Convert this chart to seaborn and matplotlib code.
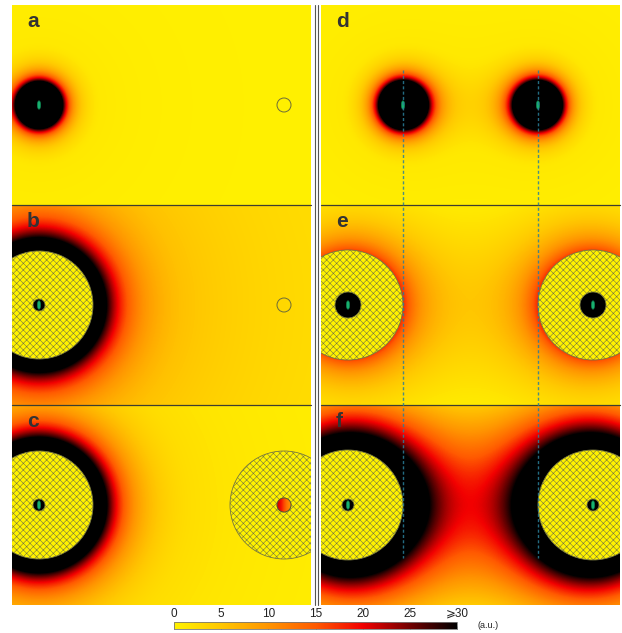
import numpy as np
import pandas as pd
import matplotlib
matplotlib.use("Agg")
import matplotlib.pyplot as plt
import seaborn as sns
from matplotlib.colors import LinearSegmentedColormap, Normalize
from matplotlib.patches import Circle, Wedge, Ellipse
from matplotlib.lines import Line2D

# ---------------- data ----------------
panel_labels = ["a", "b", "c", "d", "e", "f"]
# source positions inside each 299 x 200 panel and their signs
src_x = {"a": [27], "b": [27], "c": [27], "d": [82, 217], "e": [27, 272], "f": [27, 272]}
src_q = {"a": [1], "b": [1], "c": [1], "d": [1, -1], "e": [1, -1], "f": [1, -1]}
src_y = 100
# radius at which a lone source reaches the saturation value (30 a.u.)
sat_radius = {"a": 24, "b": 66, "c": 68, "d": 25, "e": 42, "f": 73}
# response curve F = amp_a * ((e - e_off) / (1 - e_off))**pow_a + amp_b * e**pow_b
amp_a = {"a": 27, "b": 19, "c": 20, "d": 27, "e": 30, "f": 30}
e_off = {"a": 0.15, "b": 0.2, "c": 0.2, "d": 0.15, "e": 0.08, "f": 0.25}
pow_a = {"a": 1.3, "b": 1.5, "c": 1.5, "d": 1.3, "e": 1.0, "f": 0.83}
amp_b = {"a": 3, "b": 13, "c": 10, "d": 3, "e": 0, "f": 0}
pow_b = {"a": 0.5, "b": 0.55, "c": 0.9, "d": 0.5, "e": 1.0, "f": 1.0}
# hatched shells: (x, outer radius, inner radius)
shells = {"b": [(27, 54, 6)], "c": [(27, 54, 6), (272, 54, 7)],
          "e": [(27, 55, 13), (272, 55, 13)], "f": [(27, 55, 6), (272, 55, 6)]}
open_circles = {"a": [(272, 7)], "b": [(272, 7)]}
green_marks = {"a": [27], "b": [27], "c": [27], "d": [82, 217], "e": [27, 272], "f": [27, 272]}
# values visible through the small opening of the right shell in panel c (left -> right)
c_hole_values = [21, 19, 16, 13, 11]
dashed_x = [82, 217]
cbar_ticks = [0, 5, 10, 15, 20, 25, 30]
cbar_labels = ["0", "5", "10", "15", "20", "25", "⩾30"]
vmax = 30

# ---------------- style ----------------
sns.set_theme(style="white")
plt.rcParams["font.family"] = ["Liberation Sans", "DejaVu Sans"]
plt.rcParams["hatch.linewidth"] = 0.4

cmap = LinearSegmentedColormap.from_list(
    "heat",
    [(0.0, "#fff200"), (5 / 30, "#ffc600"), (10 / 30, "#ff9400"), (15 / 30, "#ff5a00"),
     (20 / 30, "#f20000"), (25 / 30, "#720000"), (1.0, "#000000")])
norm = Normalize(0, vmax)

W, H = 299, 200
FW, FH = 622, 633
fig = plt.figure(figsize=(FW / 100, FH / 100), dpi=100)

col_x = [12, 321]
row_y = [5, 205, 405]
layout = {"a": (0, 0), "b": (0, 1), "c": (0, 2), "d": (1, 0), "e": (1, 1), "f": (1, 2)}

xs = np.arange(W) + 0.5
ys = np.arange(H) + 0.5
X, Y = np.meshgrid(xs, ys)


def field(p):
    Ex = np.zeros_like(X)
    Ey = np.zeros_like(X)
    for x0, q in zip(src_x[p], src_q[p]):
        dx = X - x0
        dy = Y - src_y
        r2 = dx ** 2 + dy ** 2 + 1e-6
        Ex += q * dx / r2 ** 1.5
        Ey += q * dy / r2 ** 1.5
    e = np.hypot(Ex, Ey) * sat_radius[p] ** 2
    e = np.minimum(e, 50)
    t = np.clip((e - e_off[p]) / (1 - e_off[p]), 0, None)
    F = amp_a[p] * t ** pow_a[p] + amp_b[p] * e ** pow_b[p]
    return np.clip(F, 0, vmax)


axes = {}
for p in panel_labels:
    c, r = layout[p]
    ax = fig.add_axes([col_x[c] / FW, (FH - row_y[r] - H) / FH, W / FW, H / FH])
    axes[p] = ax
    sns.heatmap(pd.DataFrame(field(p)), ax=ax, cmap=cmap, vmin=0, vmax=vmax, cbar=False,
                xticklabels=False, yticklabels=False, rasterized=True)
    ax.set_xlim(0, W)
    ax.set_ylim(H, 0)

    for (x0, ro, ri) in shells.get(p, []):
        ax.add_patch(Wedge((x0, src_y), ro, 0, 360, width=ro - ri, facecolor="#fff200",
                           edgecolor="#76763f", lw=0.6, hatch="xxxxx", zorder=3))
    for (x0, rr) in open_circles.get(p, []):
        ax.add_patch(Circle((x0, src_y), rr, fill=False, edgecolor="#6b6b3a", lw=0.7, zorder=3))
    for x0 in green_marks.get(p, []):
        ax.add_patch(Ellipse((x0, src_y), 3.4, 8.5, facecolor="#18b070", edgecolor="#0b7a4a",
                             lw=0.4, zorder=5))
    if p == "c":
        hole = Circle((272, src_y), 7, transform=ax.transData)
        im = ax.imshow(np.array([c_hole_values], dtype=float), cmap=cmap, norm=norm,
                       extent=(265, 279, 107, 93), interpolation="bilinear", aspect="auto", zorder=4)
        im.set_clip_path(hole)
        ax.add_patch(Circle((272, src_y), 7, fill=False, edgecolor="#55552a", lw=0.6, zorder=5))
        ax.set_xlim(0, W)
        ax.set_ylim(H, 0)
    ax.text(15, 22, p, fontsize=15, fontweight="bold", color="#333333", va="baseline", zorder=6)
    ax.axis("off")

# separators between rows
for yy in [205, 405]:
    for x0 in col_x:
        fig.add_artist(Line2D([x0 / FW, (x0 + W) / FW], [(FH - yy) / FH] * 2,
                              color="#3d3d30", lw=0.9, zorder=10))
# double vertical divider
for xx in [315.3, 317.8]:
    fig.add_artist(Line2D([xx / FW] * 2, [(FH - 5) / FH, (FH - 605) / FH],
                          color="#555555", lw=0.8, zorder=10))
# dashed guide lines through d-f
for xd in dashed_x:
    fig.add_artist(Line2D([(321 + xd) / FW] * 2, [(FH - 70) / FH, (FH - 558) / FH],
                          color="#2a7f9a", alpha=0.85, lw=1.0, ls=(0, (2.2, 1.6)), zorder=11))

# colorbar
cax = fig.add_axes([174 / FW, (FH - 629) / FH, 283 / FW, 7 / FH])
sm = plt.cm.ScalarMappable(norm=norm, cmap=cmap)
cb = fig.colorbar(sm, cax=cax, orientation="horizontal", ticks=cbar_ticks)
cb.set_ticklabels(cbar_labels)
cax.tick_params(axis="x", which="both", bottom=True, top=False, labelbottom=False, labeltop=True,
                direction="in", length=2.5, width=0.6, color="#555555", pad=1.5, labelsize=8.5,
                labelcolor="#222222")
cb.minorticks_off()
cb.outline.set_edgecolor("#777777")
cb.outline.set_linewidth(0.6)
fig.text(478 / FW, (FH - 626) / FH, "(a.u.)", fontsize=6.5, color="#222222", va="center", ha="left")

fig.savefig("out.png", dpi=100)
